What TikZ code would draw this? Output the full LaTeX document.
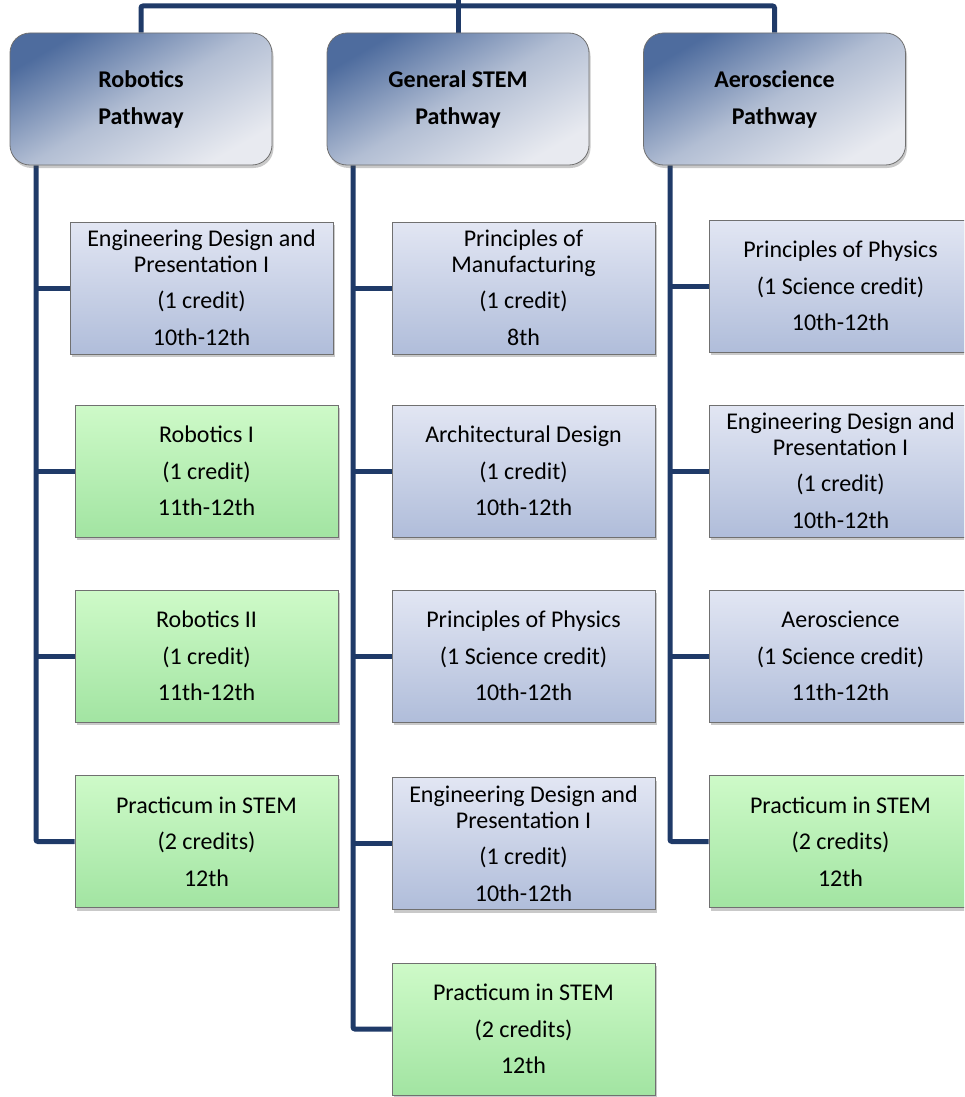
\documentclass[tikz,border=0pt]{standalone}
\usepackage{fontspec}
\setmainfont{Carlito}
\usetikzlibrary{shadows,backgrounds}

\definecolor{linkblue}{RGB}{31,58,104}
\definecolor{hdrdark}{RGB}{78,108,158}
\definecolor{hdrlight}{RGB}{232,234,240}
\definecolor{bluetop}{RGB}{226,230,243}
\definecolor{bluebot}{RGB}{176,189,218}
\definecolor{greentop}{RGB}{206,250,200}
\definecolor{greenbot}{RGB}{162,228,162}
\definecolor{edgegray}{RGB}{112,112,112}

\tikzset{
  conn/.style={draw=linkblue, line width=5pt, rounded corners=2pt},
  shadowed/.style={drop shadow={shadow xshift=1.5pt, shadow yshift=-3pt, opacity=0.3, fill=black!70}},
  hdrbox/.style={shadowed, draw=edgegray, line width=0.8pt, rounded corners=20pt,
    minimum width=262pt, minimum height=132pt, align=center,
    top color=hdrdark, bottom color=hdrlight, middle color=hdrdark!35!hdrlight, shading angle=30,
    font=\bfseries\fontsize{24}{37}\selectfont},
  course/.style={shadowed, draw=edgegray, line width=0.8pt,
    minimum width=263pt, minimum height=132pt, align=center,
    font=\fontsize{24}{25.5}\selectfont},
  bluebox/.style={course, top color=bluetop, bottom color=bluebot},
  greenbox/.style={course, top color=greentop, bottom color=greenbot},
}

\begin{document}
\begin{tikzpicture}[x=1pt, y=-1pt]
\clip (0,0) rectangle (964,1097);
\useasboundingbox (0,0) rectangle (964,1097);

% pathway headers
\node[hdrbox] (robHdr)  at (141,99)   {Robotics\\Pathway};
\node[hdrbox] (stemHdr) at (458,99)   {General STEM\\Pathway};
\node[hdrbox] (aeroHdr) at (774.5,99) {Aeroscience\\Pathway};

% robotics pathway courses
\node[bluebox]  (robEng)  at (201.5,288) {Engineering Design and\\Presentation I\\[11pt](1 credit)\\[11pt]10th-12th};
\node[greenbox] (robOne)  at (206.5,471) {Robotics I\\[11pt](1 credit)\\[11pt]11th-12th};
\node[greenbox] (robTwo)  at (206.5,656) {Robotics II\\[11pt](1 credit)\\[11pt]11th-12th};
\node[greenbox] (robPrac) at (206.5,841.5) {Practicum in STEM\\[11pt](2 credits)\\[11pt]12th};

% general STEM pathway courses
\node[bluebox]  (stemMan)  at (523.5,288) {Principles of\\Manufacturing\\[11pt](1 credit)\\[11pt]8th};
\node[bluebox]  (stemArch) at (523.5,471) {Architectural Design\\[11pt](1 credit)\\[11pt]10th-12th};
\node[bluebox]  (stemPhys) at (523.5,656) {Principles of Physics\\[11pt](1 Science credit)\\[11pt]10th-12th};
\node[bluebox]  (stemEng)  at (523.5,843.5) {Engineering Design and\\Presentation I\\[11pt](1 credit)\\[11pt]10th-12th};
\node[greenbox] (stemPrac) at (523.5,1029) {Practicum in STEM\\[11pt](2 credits)\\[11pt]12th};

% aeroscience pathway courses
\node[bluebox]  (aeroPhys) at (840.5,286) {Principles of Physics\\[11pt](1 Science credit)\\[11pt]10th-12th};
\node[bluebox]  (aeroEng)  at (840.5,471) {Engineering Design and\\Presentation I\\[11pt](1 credit)\\[11pt]10th-12th};
\node[bluebox]  (aeroSci)  at (840.5,656) {Aeroscience\\[11pt](1 Science credit)\\[11pt]11th-12th};
\node[greenbox] (aeroPrac) at (840.5,841.5) {Practicum in STEM\\[11pt](2 credits)\\[11pt]12th};

% spine positions and top bus
\coordinate (spL) at (36,0);
\coordinate (spM) at (353,0);
\coordinate (spR) at (670,0);
\coordinate (bus) at (458,6);
\coordinate (top) at (458,-4);

\begin{scope}[on background layer]
  % top bus joining the three headers
  \draw[conn] (robHdr.north) |- (bus) -| (aeroHdr.north);
  \draw[conn, rounded corners=0pt] (top) -- (stemHdr.north);

  % robotics spine
  \draw[conn] (robHdr.south -| spL) |- (robPrac.west);
  \draw[conn] (spL |- robEng.west) -- (robEng.west);
  \draw[conn] (spL |- robOne.west) -- (robOne.west);
  \draw[conn] (spL |- robTwo.west) -- (robTwo.west);

  % general STEM spine
  \draw[conn] (stemHdr.south -| spM) |- (stemPrac.west);
  \draw[conn] (spM |- stemMan.west) -- (stemMan.west);
  \draw[conn] (spM |- stemArch.west) -- (stemArch.west);
  \draw[conn] (spM |- stemPhys.west) -- (stemPhys.west);
  \draw[conn] (spM |- stemEng.west) -- (stemEng.west);

  % aeroscience spine
  \draw[conn] (aeroHdr.south -| spR) |- (aeroPrac.west);
  \draw[conn] (spR |- aeroPhys.west) -- (aeroPhys.west);
  \draw[conn] (spR |- aeroEng.west) -- (aeroEng.west);
  \draw[conn] (spR |- aeroSci.west) -- (aeroSci.west);
\end{scope}
\end{tikzpicture}
\end{document}
